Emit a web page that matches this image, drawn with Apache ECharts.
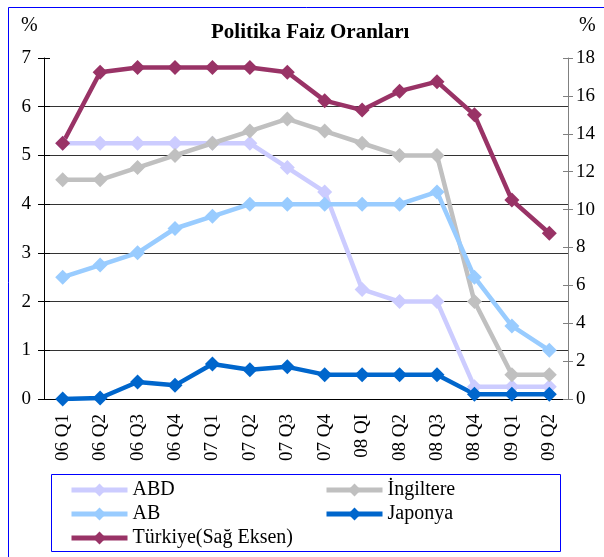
<!DOCTYPE html>
<html>
<head>
<meta charset="utf-8">
<script src="https://cdn.jsdelivr.net/npm/echarts@6/dist/echarts.min.js"></script>
<style>
html,body{margin:0;padding:0;background:#fff;}
#main{width:604px;height:557px;}
</style>
</head>
<body>
<div id="main"></div>
<script>
var categories = ['06 Q1','06 Q2','06 Q3','06 Q4','07 Q1','07 Q2','07 Q3','07 Q4','08 QI','08 Q2','08 Q3','08 Q4','09 Q1','09 Q2'];
var abd = [5.25,5.25,5.25,5.25,5.25,5.25,4.75,4.25,2.25,2.0,2.0,0.25,0.25,0.25];
var ingiltere = [4.5,4.5,4.75,5.0,5.25,5.5,5.75,5.5,5.25,5.0,5.0,2.0,0.5,0.5];
var ab = [2.5,2.75,3.0,3.5,3.75,4.0,4.0,4.0,4.0,4.0,4.25,2.5,1.5,1.0];
var japonya = [0,0.02,0.35,0.28,0.72,0.6,0.66,0.5,0.5,0.5,0.5,0.1,0.1,0.1];
var turkiye = [13.5,17.25,17.5,17.5,17.5,17.5,17.25,15.75,15.25,16.25,16.75,15.0,10.5,8.75];

var font = '"Liberation Serif", "Times New Roman", serif';

var myChart = echarts.init(document.getElementById('main'));

function line(name, data, color, axis) {
	return {
		name: name,
		type: 'line',
		yAxisIndex: axis,
		data: data,
		symbol: 'diamond',
		symbolSize: 15,
		showAllSymbol: true,
		lineStyle: {color: color, width: 4.5},
		itemStyle: {color: color},
		emphasis: {disabled: true},
		animation: false
	};
}

var legendText = {fontFamily: font, fontSize: 20, color: '#000', lineHeight: 20};

var option = {
	backgroundColor: '#fff',
	title: {
		text: 'Politika Faiz Oranları',
		left: 206,
		top: 17,
		textStyle: {fontFamily: font, fontSize: 21, fontWeight: 'bold', color: '#000'}
	},
	grid: {left: 44, right: 36, top: 58, bottom: 158},
	legend: [
		{
			orient: 'vertical',
			left: 64,
			top: 475,
			itemWidth: 56,
			itemHeight: 16,
			itemGap: 4,
			lineStyle: {width: 5},
			data: ['ABD', 'AB', 'Türkiye(Sağ Eksen)'],
			textStyle: legendText
		},
		{
			orient: 'vertical',
			left: 319,
			top: 475,
			itemWidth: 56,
			itemHeight: 16,
			itemGap: 4,
			lineStyle: {width: 5},
			data: ['İngiltere', 'Japonya'],
			textStyle: legendText
		}
	],
	xAxis: {
		type: 'category',
		data: categories,
		boundaryGap: true,
		axisLine: {lineStyle: {color: '#000'}},
		axisTick: {interval: 0, length: 7, lineStyle: {color: '#000'}},
		axisLabel: {interval: 0, rotate: 90, margin: 15, fontFamily: font, fontSize: 19, color: '#000'}
	},
	yAxis: [
		{
			type: 'value', min: 0, max: 7, interval: 1, position: 'left',
			axisLine: {show: true, lineStyle: {color: '#000'}},
			axisTick: {show: true, length: 6, lineStyle: {color: '#000'}},
			axisLabel: {margin: 13, fontFamily: font, fontSize: 19, color: '#000'},
			splitLine: {show: true, showMaxLine: false, lineStyle: {color: '#333', width: 1}}
		},
		{
			type: 'value', min: 0, max: 18, interval: 2, position: 'right',
			axisLine: {show: true, lineStyle: {color: '#808080'}},
			axisTick: {show: true, length: 5, lineStyle: {color: '#808080'}},
			axisLabel: {margin: 8, fontFamily: font, fontSize: 19, color: '#000'},
			splitLine: {show: false}
		},
		// inner halves of the crossing ticks
		{
			type: 'value', min: 0, max: 7, interval: 1, position: 'left',
			axisLine: {show: false},
			axisTick: {show: true, inside: true, length: 6, lineStyle: {color: '#000'}},
			axisLabel: {show: false},
			splitLine: {show: false}
		},
		{
			type: 'value', min: 0, max: 18, interval: 2, position: 'right',
			axisLine: {show: false},
			axisTick: {show: true, inside: true, length: 5, lineStyle: {color: '#808080'}},
			axisLabel: {show: false},
			splitLine: {show: false}
		}
	],
	graphic: [
		{type: 'rect', left: 6, top: 5, shape: {width: 700, height: 700}, style: {fill: null, stroke: '#0000ff', lineWidth: 1}, silent: true},
		{type: 'rect', left: 49, top: 472, shape: {width: 509, height: 77}, style: {fill: null, stroke: '#0000ff', lineWidth: 1}, silent: true},
		{type: 'text', left: 21, top: 16, style: {text: '%', font: '20px ' + font, fill: '#000'}},
		{type: 'text', left: 579, top: 16, style: {text: '%', font: '20px ' + font, fill: '#000'}}
	],
	series: [
		line('ABD', abd, '#ccccff', 0),
		line('İngiltere', ingiltere, '#c0c0c0', 0),
		line('AB', ab, '#99ccff', 0),
		line('Japonya', japonya, '#0066cc', 0),
		line('Türkiye(Sağ Eksen)', turkiye, '#993366', 1)
	]
};
myChart.setOption(option);
</script>
</body>
</html>
